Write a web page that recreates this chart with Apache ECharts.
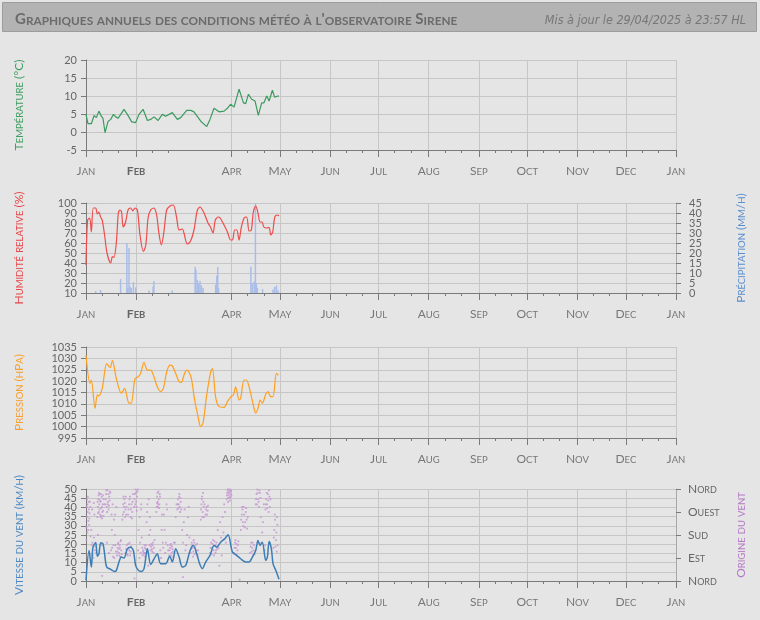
<!DOCTYPE html>
<html>
<head>
<meta charset="utf-8">
<script src="https://cdn.jsdelivr.net/npm/echarts@6/dist/echarts.min.js"></script>
<style>
  html, body { margin: 0; background: #e5e5e5; }
  #main { width: 760px; height: 620px; }
</style>
</head>
<body>
<div id="main"></div>
<script>
// x axis is in days since 1 Jan 2025
const monthTicks = [0, 31, 90, 120, 151, 181, 212, 243, 273, 304, 334, 365];
const monthLabels = ['Jan', 'Feb', 'Apr', 'May', 'Jun', 'Jul', 'Aug', 'Sep', 'Oct', 'Nov', 'Dec', 'Jan'];
const minorTicks = [10, 20, 41, 51, 100, 110, 130, 140, 161, 171, 191, 201, 222, 232, 253, 263, 283, 293, 314, 324, 344, 354];
const dirLabels = ['Nord', 'Est', 'Sud', 'Ouest', 'Nord'];

// dense tick labels are split over two stacked axes so none get dropped
const humidityTicksA = [10, 30, 50, 70, 90];
const humidityTicksB = [20, 40, 60, 80, 100];
const rainTicksA = [0, 10, 20, 30, 40];
const rainTicksB = [5, 15, 25, 35, 45];
const windTicksA = [0, 10, 20, 30, 40, 50];
const windTicksB = [5, 15, 25, 35, 45];

const tempData = [[0,4.9],[1.2,2.3],[3.3,2.3],[5,4.6],[6.4,4],[8,5.8],[9.5,4.4],[10.5,3.8],[11.8,-0.2],[13.6,2.9],[15.3,3.5],[17,4.9],[18.4,4.2],[19.8,3.8],[21.5,4.9],[23.5,6.3],[25.6,4.9],[28.3,2.8],[30.7,2.6],[32.8,4.9],[35.3,6.3],[38,3.2],[40,3.5],[42.1,4.2],[44.6,3.2],[47.2,4.9],[49.3,4.4],[51.4,4.9],[53.4,5.4],[56.5,3.5],[58.6,4.0],[62.3,6.0],[64.8,6.0],[66.8,5.6],[71,3.0],[74.7,1.5],[76.7,3.5],[79.2,6.6],[82.3,5.6],[85.4,5.8],[87.5,6.6],[89.5,7.7],[91.6,6.9],[94.7,11.9],[97.4,8.1],[98.8,7.9],[100.5,10.5],[102.5,9.1],[104.6,8.6],[106.6,4.6],[108.7,8.1],[110.1,8.1],[111.8,10],[113.3,8.6],[115.3,11.6],[116.7,9.7],[118.8,10],[119.4,10]];

const humidityData = [[0,38],[1,83],[2.3,85],[3.3,71],[4.5,95],[6,95],[7,89],[8,91],[9,86],[10,83],[11.5,68],[13,50],[15.3,40],[16.3,46.5],[17.3,45.5],[18.8,61],[20,90],[21,93],[22,91],[23,76],[24.5,81],[26,93],[27.6,95],[29,92],[30.3,95],[31.8,93],[33.4,68],[35.5,51.5],[37,58],[38.4,85],[40,93],[42,95],[43.7,88],[45,71],[46.6,58],[48.2,71],[49.9,93],[52,97],[54,98],[56,86],[57.6,73],[59.6,74],[60.6,70],[62.7,59],[64.7,62],[66.8,73],[68.9,93],[70.5,96],[73,90],[75.5,80],[77,76],[78.6,70],[80,83],[81.9,86],[83,85],[85.4,78],[87.5,71],[89.5,63],[90.6,63],[92,73],[93.3,73],[94.7,63],[96,75],[97.8,85],[99.4,86],[100.9,72],[102.3,73],[103.5,91],[105,97],[106.4,90],[107.7,81],[109,81],[110,76],[111.8,75],[113.3,75.5],[114.3,68],[115.5,71],[116.8,86],[118.4,88],[119.4,87]];

const rainData = [[6,1],[9,1.5],[21.4,7],[25.3,25],[25.9,2.5],[26.6,22.5],[27.3,3.3],[28,2.5],[29.3,5.5],[30.7,2.8],[39,1.2],[41.5,3.3],[42,6],[53.4,1.2],[67.5,13],[68,11.6],[68.9,6.6],[69.7,5],[70.5,6],[71.4,3.8],[72.4,2.5],[80.2,4.2],[80.9,8.6],[81.5,13],[82,2.5],[102,13.3],[102.9,5],[104,5.8],[104.8,45],[105.4,5],[106,2.5],[109.2,2],[115.7,1.7],[116.7,3],[117.8,3.8],[118.8,1.2]];

const pressureData = [[0,1031.4],[2.5,1019],[3.3,1020.5],[5.6,1008],[7,1014],[8,1013.5],[10.1,1017],[12.8,1027.7],[14.9,1026],[16.3,1029],[18.8,1021],[21.9,1014.6],[23.9,1016.8],[26.6,1010.3],[28,1010.3],[30.3,1021],[32.4,1022],[33.8,1023.4],[35.9,1028.2],[38,1024.8],[40,1024.8],[41.7,1022.6],[44.1,1017.5],[46.2,1015.4],[47.9,1016.8],[49.9,1024],[52,1027],[53.4,1026.7],[55.5,1023.4],[57.6,1019.7],[59,1019.4],[60.6,1022.6],[62.3,1024.8],[63.7,1024],[65.2,1021.2],[67.2,1011.7],[69.3,1004.5],[70.9,1000],[72.4,1001.5],[74.7,1014],[77.1,1024],[78.2,1025.5],[80.2,1013],[82.3,1008.8],[85.4,1008.5],[87.5,1011],[89.5,1013],[91.2,1014],[92.6,1017.5],[94.7,1011.7],[95.7,1012.5],[97.8,1020.5],[99.2,1020.5],[100.9,1017.5],[104,1008],[105,1006],[106.4,1008],[107.7,1011.7],[109.1,1010.3],[111.2,1014.2],[112.6,1015.4],[114.3,1013.2],[115.7,1013.2],[117.8,1023.4],[119,1022.6]];

const windSpeedData = [[0,0.4],[1.9,16.6],[3.3,7.6],[4.3,18.4],[6,20.8],[7,13.5],[8,14.8],[9.1,20.8],[10.5,20.2],[11.5,14.8],[12.8,7.6],[15.3,6.3],[17.7,5.2],[18.8,5.8],[20.4,10.3],[21.9,13],[23.5,12.5],[25.6,17.5],[27.6,18.4],[29.3,16.6],[30.7,8.5],[32.4,5.8],[34.2,5.2],[35.9,6.7],[38,17.5],[40,9],[42.1,12],[44.1,14.8],[46.2,9.4],[49.3,9.4],[51.8,13.5],[53.4,10.3],[55.5,17.5],[57.6,13],[59.6,7.6],[61.7,8.5],[64.4,16.6],[66.4,19.3],[68.5,14.8],[70.3,9.4],[72,6.7],[74,10.3],[76.7,13.9],[79.2,19.3],[80.9,18.4],[83.3,21.1],[85.8,22.9],[87.9,25.1],[90.6,15.7],[93.2,13.9],[95.7,12.1],[98.8,10.3],[100.9,10.3],[102.9,13],[105,16.6],[106.4,22],[107.7,19.3],[109.1,21.1],[111.2,11.2],[112.2,13],[113.3,21.5],[114.7,17.5],[115.7,9.4],[117.4,5.8],[119.4,0.9]];

// wind direction in degrees (0 = Nord, 90 = Est, 180 = Sud, 270 = Ouest)
const windDirData = [
  [0.3,210],[0.6,250],[0.9,300],[1.2,330],[1.5,235],[1.8,280],[2.2,265],[2.4,310],[0.8,190],[1.9,220],
  [0.2,160],[0.5,290],[0.7,320],[1,270],[1.4,200],[1.6,310],[2,245],[2.6,290],[2.8,175],
  [3.5,140],[4.2,100],[5,170],[5.5,120],[3.8,280],[4.8,305],[6,150],
  [3.2,200],[4,150],[4.5,90],[5.2,260],[5.8,135],[6.3,110],
  [7,250],[7.3,290],[7.6,320],[7.9,270],[8.2,300],[8.5,340],[8.8,260],[9.1,310],[9.4,285],[9.7,330],[10,245],[10.3,300],[10.6,275],[10.9,320],[8,345],[9.5,255],
  [7.2,310],[7.5,265],[7.8,335],[8.3,280],[8.7,315],[9,250],[9.3,340],[9.8,290],[10.1,270],[10.5,335],[10.8,255],[11.2,300],[7.4,180],[9.6,140],
  [12,300],[12.4,340],[12.8,290],[13.2,355],[13.6,310],[14,280],[14.4,330],[14.8,350],[13,270],
  [12.2,320],[12.6,355],[13.4,300],[13.8,340],[14.2,295],[14.6,315],[15,345],[12.9,150],[14.1,110],
  [15.5,120],[16,200],[16.5,300],[17,140],[17.5,90],[18,260],[18.5,115],
  [15.8,260],[16.2,130],[16.8,95],[17.3,240],[17.8,180],[18.2,140],[18.8,290],
  [19.2,100],[19.6,130],[20,150],[20.4,110],[20.8,140],[21.2,95],[21.6,160],[20.2,125],
  [19.4,115],[19.8,145],[20.6,100],[21,130],[21.4,155],[21.8,120],[22.1,105],
  [22.5,240],[23,300],[23.4,270],[23.8,320],[24.2,250],[24.6,330],[25,290],
  [22.8,260],[23.2,330],[23.6,290],[24,305],[24.4,280],[24.8,260],
  [24.5,110],[25.2,140],[25.8,100],[26.4,130],[27,150],[27.6,115],
  [24.8,125],[25.5,105],[26.1,145],[26.7,120],[27.3,100],[27.9,135],
  [26,260],[26.6,300],[27.2,330],[27.8,280],[28.4,245],[28.8,310],
  [26.3,280],[26.9,320],[27.5,250],[28.1,300],[28.6,270],[29,340],
  [29.8,290],[30.2,340],[30.6,358],[31,310],[31.4,275],[31.8,350],
  [30,320],[30.4,300],[30.8,345],[31.2,290],[31.6,330],[32,358],
  [32.5,200],[33,90],[33.5,150],[34,280],[34.5,170],
  [32.2,120],[33.2,250],[33.8,110],[34.2,300],[34.8,130],
  [35,100],[35.5,120],[36,110],[36.5,95],[37,125],[36.2,140],
  [35.2,115],[35.8,105],[36.4,130],[36.8,110],[37.2,140],
  [37.5,230],[38,300],[38.5,60],[39,180],[39.5,250],
  [37.8,270],[38.2,110],[38.8,320],[39.3,140],[39.8,200],
  [40,120],[40.5,145],[41,115],[41.5,150],[42,130],
  [40.2,135],[40.8,125],[41.2,140],[41.8,110],[42.4,160],
  [43.7,290],[44,330],[44.4,310],[44.8,350],[45.2,285],[45.6,340],[44.6,300],
  [43.9,305],[44.2,345],[44.5,290],[45,320],[45.4,300],[45.8,330],[43.5,270],
  [46,120],[46.8,200],[47.5,150],[48.2,260],[49,110],[49.8,300],[50.5,140],
  [46.4,90],[47,260],[47.8,130],[48.6,200],[49.4,150],[50.2,280],[50.8,120],
  [51.5,100],[52,130],[52.5,145],[53,110],[53.5,125],[54,95],
  [51.8,120],[52.2,140],[52.8,100],[53.2,135],[53.8,115],[54.3,150],
  [56.5,280],[57,320],[57.4,300],[57.8,340],[58.2,270],[58.6,310],
  [55.5,250],[56,300],[56.8,300],[57.2,285],[57.6,330],[58,290],[58.4,325],[58.9,280],
  [55,150],[59.5,200],[60.5,230],[61.5,120],[62.5,180],[63.5,290],
  [60,150],[61,280],[62,140],[63,250],[64,170],
  [64.8,110],[65.4,150],[66,130],[66.6,160],[67.2,105],[67.8,140],[68.4,120],[69,100],[66.2,95],
  [65,125],[65.7,140],[66.4,115],[67,150],[67.5,130],[68.1,110],[68.7,145],[69.3,120],
  [71,240],[71.4,300],[71.8,330],[72.2,270],[72.6,310],[73,250],
  [71.2,280],[71.6,320],[72,250],[72.4,345],[72.8,290],[73.3,300],
  [74,260],[74.6,290],[75.2,275],[74.3,280],[74.9,260],[75.5,295],
  [76.8,110],[77.4,150],[78,130],[78.6,160],[79.2,100],[79.8,140],[80.4,120],[80.9,135],
  [77,130],[77.7,105],[78.3,145],[78.9,120],[79.5,155],[80.1,110],[80.7,150],[81.2,125],
  [81.5,200],[82.5,60],[83.5,170],[84.5,250],[85.5,300],[86.5,150],
  [82,130],[83,230],[84,100],[85,190],[86,270],
  [87,320],[87.4,345],[87.8,358],[88.2,335],[88.6,350],[89,315],[89.4,340],[89.8,355],[88,325],[89.2,330],
  [87.2,335],[87.6,355],[88.4,345],[88.8,325],[89.6,350],[90,335],[87.9,310],[89.1,358],
  [91.6,110],[92.2,150],[92.8,130],[93.4,100],[94,140],[92.5,160],
  [91.9,130],[92.6,105],[93.1,145],[93.7,120],[94.3,155],
  [95.8,200],[96.4,260],[97,230],[97.6,290],[98.2,210],[98.8,270],[99.4,240],[96.8,280],
  [96,240],[96.6,290],[97.3,215],[97.9,260],[98.5,230],[99.1,285],[99.7,205],[100.1,250],
  [101.5,110],[102.2,150],[102.8,130],[103.4,100],[104,140],
  [101.8,135],[102.5,115],[103.1,150],[103.7,120],[104.3,105],
  [105,300],[105.5,340],[106,358],[106.5,320],[107,290],[107.6,345],
  [105.2,320],[105.8,300],[106.2,345],[106.8,310],[107.3,355],[107.9,325],
  [108.5,150],[109.5,230],[110.5,120],[108.1,250],[109,190],[110,300],[110.8,140],
  [111,280],[111.5,320],[112,300],[112.5,340],[113,270],[113.5,330],
  [111.2,300],[111.8,345],[112.2,285],[112.8,315],[113.2,355],[113.8,290],[114.2,320],
  [116,130],[116.5,200],[117,240],[117.5,160],[118,115],[118.4,220],
  [116.2,170],[116.8,260],[117.2,135],[117.8,190],[118.2,250],[118.6,140],
  [10,20],[30,10],[60,15],[95,5]
];

// small caps via rich text: lowercase letters go uppercase in a smaller size
function sc(str, big, small) {
  big = big || 'c'; small = small || 's';
  let out = '', buf = '', cur = null;
  for (const ch of str) {
    const low = ch !== ch.toUpperCase();
    const k = low ? small : big;
    if (k !== cur && buf) { out += '{' + cur + '|' + buf + '}'; buf = ''; }
    cur = k;
    buf += low ? ch.toUpperCase() : ch;
  }
  if (buf) out += '{' + cur + '|' + buf + '}';
  return out;
}
function scRich(color, bigSize, smallSize, weight) {
  const base = { fontFamily: 'Lato', color: color, fontWeight: weight || 'normal', verticalAlign: 'bottom' };
  return {
    c: Object.assign({}, base, { fontSize: bigSize }),
    s: Object.assign({}, base, { fontSize: smallSize })
  };
}

const axisGray = '#7a7a7a';
const gridGray = '#c6c6c6';
const tickFont = { fontFamily: 'Lato', fontSize: 11, color: '#666' };

const tops = [60, 203, 347, 489];
const heights = [90, 90, 91, 92];
const grids = tops.map((t, i) => ({ left: 86, right: 84, top: t, height: heights[i] }));

const monthRich = Object.assign(scRich('#777', 12, 9.5), {
  fc: { fontFamily: 'Lato', color: '#666', fontWeight: 'bold', fontSize: 12, verticalAlign: 'bottom' },
  fs: { fontFamily: 'Lato', color: '#666', fontWeight: 'bold', fontSize: 9.5, verticalAlign: 'bottom' }
});

const xAxes = [];
grids.forEach((g, i) => {
  xAxes.push({
    gridIndex: i, type: 'value', min: 0, max: 365, position: 'bottom',
    axisLine: { show: true, onZero: false, lineStyle: { color: axisGray } },
    axisTick: { show: true, customValues: monthTicks, length: 7, lineStyle: { color: axisGray } },
    axisLabel: {
      customValues: monthTicks, margin: 15, showMinLabel: true, showMaxLabel: true,
      formatter: function (v) {
        const idx = monthTicks.indexOf(Math.round(v));
        if (idx < 0) return '';
        return idx === 1 ? sc(monthLabels[idx], 'fc', 'fs') : sc(monthLabels[idx]);
      },
      rich: monthRich
    },
    splitLine: { show: true, lineStyle: { color: gridGray } }
  });
  xAxes.push({
    gridIndex: i, type: 'value', min: 0, max: 365, position: 'bottom',
    axisLine: { show: false, onZero: false },
    axisTick: { show: true, customValues: minorTicks, length: 3, lineStyle: { color: axisGray } },
    axisLabel: { show: false },
    splitLine: { show: false }
  });
});

function leftY(gridIndex, min, max, interval, name, color) {
  return {
    gridIndex: gridIndex, type: 'value', min: min, max: max, interval: interval, position: 'left',
    name: sc(name), nameLocation: 'middle', nameRotate: 90, nameGap: 61,
    nameTextStyle: { rich: scRich(color, 12, 9.5) },
    axisLine: { show: true, onZero: false, lineStyle: { color: axisGray } },
    axisTick: { show: true, length: 5, lineStyle: { color: axisGray } },
    axisLabel: Object.assign({ margin: 9, showMinLabel: true, showMaxLabel: true, hideOverlap: false,
      formatter: v => String(v) }, tickFont),
    splitLine: { show: true, lineStyle: { color: gridGray } }
  };
}
function rightY(gridIndex, min, max, interval, name, color) {
  return {
    gridIndex: gridIndex, type: 'value', min: min, max: max, interval: interval, position: 'right',
    name: sc(name), nameLocation: 'middle', nameRotate: 90, nameGap: 59,
    nameTextStyle: { rich: scRich(color, 12, 9.5) },
    axisLine: { show: true, onZero: false, lineStyle: { color: '#a8a8a8' } },
    axisTick: { show: true, length: 5, lineStyle: { color: axisGray } },
    axisLabel: Object.assign({ margin: 13, showMinLabel: true, showMaxLabel: true, hideOverlap: false,
      formatter: v => String(v) }, tickFont),
    splitLine: { show: false }
  };
}
// the main axis keeps line, ticks and half the labels; a bare twin carries the other half
function withTwin(axis, valuesA, valuesB) {
  axis.axisLabel.customValues = valuesA;
  const twin = {
    gridIndex: axis.gridIndex, type: 'value', min: axis.min, max: axis.max, interval: axis.interval,
    position: axis.position,
    axisLine: { show: false, onZero: false }, axisTick: { show: false }, splitLine: { show: false },
    axisLabel: Object.assign({}, axis.axisLabel, { customValues: valuesB })
  };
  return [axis, twin];
}

const [humAxis, humTwin] = withTwin(leftY(1, 10, 100, 10, 'Humidité relative (%)', '#e8474a'), humidityTicksA, humidityTicksB);
const [rainAxis, rainTwin] = withTwin(rightY(1, 0, 45, 5, 'Précipitation (mm/h)', '#5b8fce'), rainTicksA, rainTicksB);
const [windAxis, windTwin] = withTwin(leftY(3, 0, 50, 5, 'Vitesse du vent (km/h)', '#4d88c0'), windTicksA, windTicksB);

const dirAxis = rightY(3, 0, 360, 90, 'Origine du vent', '#b57ac6');
dirAxis.axisLabel = {
  margin: 12, showMinLabel: true, showMaxLabel: true, hideOverlap: false,
  formatter: v => sc(dirLabels[Math.round(v / 90)]),
  rich: scRich('#666', 12, 9)
};

const chart = echarts.init(document.getElementById('main'));
chart.setOption({
  backgroundColor: '#e5e5e5',
  animation: false,
  graphic: [{
    type: 'rect', left: 2, top: 2, z: -1,
    shape: { width: 754, height: 29 },
    style: { fill: '#b3b3b3', stroke: '#9c9c9c', lineWidth: 1 }
  }],
  title: [{
    text: sc("Graphiques annuels des conditions météo à l'observatoire Sirene"),
    left: 10, top: 7,
    textStyle: { rich: scRich('#6b6b6b', 15, 11.8, 'bold') }
  }, {
    text: 'Mis à jour le 29/04/2025 à 23:57 HL',
    right: 9, top: 9,
    textStyle: { fontFamily: "'Liberation Sans Narrow', 'DejaVu Sans Condensed', 'Open Sans', sans-serif",
      fontStyle: 'italic', fontWeight: 'normal', fontSize: 12.5, color: '#777' }
  }],
  grid: grids,
  xAxis: xAxes,
  yAxis: [
    leftY(0, -5, 20, 5, 'Température (°C)', '#3f9d62'),
    humAxis,
    rainAxis,
    leftY(2, 995, 1035, 5, 'Pression (hPa)', '#f5a030'),
    windAxis,
    dirAxis,
    humTwin, rainTwin, windTwin
  ],
  series: [
    { type: 'line', name: 'Température', xAxisIndex: 0, yAxisIndex: 0, data: tempData,
      showSymbol: false, lineStyle: { color: '#3c9a5f', width: 1.2 }, itemStyle: { color: '#3c9a5f' } },
    { type: 'bar', name: 'Précipitation', xAxisIndex: 2, yAxisIndex: 2, data: rainData,
      barWidth: 1.5, itemStyle: { color: '#a9bde9' } },
    { type: 'line', name: 'Humidité', xAxisIndex: 2, yAxisIndex: 1, data: humidityData, smooth: 0.3,
      showSymbol: false, lineStyle: { color: '#ef4c4c', width: 1.2 }, itemStyle: { color: '#ef4c4c' } },
    { type: 'line', name: 'Pression', xAxisIndex: 4, yAxisIndex: 3, data: pressureData, smooth: 0.3,
      showSymbol: false, lineStyle: { color: '#ff9f1c', width: 1.2 }, itemStyle: { color: '#ff9f1c' } },
    { type: 'scatter', name: 'Origine', xAxisIndex: 6, yAxisIndex: 5, data: windDirData,
      symbol: 'rect', symbolSize: 1.8, itemStyle: { color: '#c596d2', opacity: 0.85 } },
    { type: 'line', name: 'Vitesse', xAxisIndex: 6, yAxisIndex: 4, data: windSpeedData, smooth: 0.3,
      showSymbol: false, lineStyle: { color: '#3d7db6', width: 1.5 }, itemStyle: { color: '#3d7db6' } }
  ]
});
</script>
</body>
</html>
